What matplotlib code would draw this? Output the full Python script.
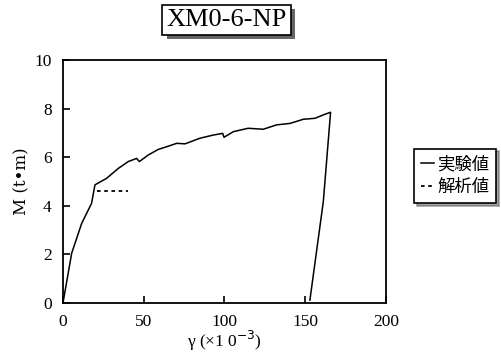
import numpy as np
import matplotlib.pyplot as plt
import matplotlib.patheffects as pe

# experimental curve (gamma x10^-3, M t*m)
exp_x = [0, 5.4, 11.6, 17.7, 19.8, 20.8, 27, 34.3, 40.4, 45.6, 47.3, 52.8, 59, 64.2,
         70.4, 75.6, 84.8, 93, 98.9, 99.7, 105.5, 114.7, 124, 132.3, 140.6, 148.8,
         156, 161.2, 165.7, 161.2, 152.9]
exp_y = [0, 2.05, 3.28, 4.1, 4.86, 4.9, 5.13, 5.54, 5.82, 5.95, 5.82, 6.09, 6.32, 6.43,
         6.57, 6.55, 6.78, 6.91, 6.98, 6.82, 7.05, 7.19, 7.15, 7.33, 7.39, 7.56,
         7.6, 7.74, 7.85, 4.17, 0.12]

# analytical value
ana_x = [21, 40.5]
ana_y = [4.6, 4.6]

xticks = [0, 50, 100, 150, 200]
yticks = [0, 2, 4, 6, 8, 10]

serif = ['Liberation Serif', 'DejaVu Serif']
jp = ['Noto Sans CJK JP', 'DejaVu Sans']

fig = plt.figure(figsize=(5.01, 3.55), dpi=100)
ax = fig.add_axes([0.1257, 0.1465, 0.6447, 0.6845])

ax.plot(exp_x, exp_y, color='black', lw=1.1, label='実験値')
ax.plot(ana_x, ana_y, color='black', lw=1.3, ls=(0, (2, 2)), label='解析値')

ax.set_xlim(0, 200)
ax.set_ylim(0, 10)
ax.set_xticks(xticks)
ax.set_yticks(yticks)
ax.tick_params(direction='in', length=5, width=1.2, labelsize=12.5, pad=8)
for lab in ax.get_xticklabels() + ax.get_yticklabels():
    lab.set_fontfamily(serif)
for s in ax.spines.values():
    s.set_linewidth(1.3)

ax.set_ylabel('M (t\u2022m)', fontsize=12, family=['DejaVu Serif'], labelpad=3)
ax.set_xlabel('γ (×1 0$^{-3}$)', fontsize=12.5, family=serif, labelpad=-1)

# title with shadow box
t = fig.text(0.452, 0.943, 'XM0-6-NP', ha='center', va='center', fontsize=19,
             family=serif,
             bbox=dict(boxstyle='square,pad=0.15', fc='white', ec='black', lw=1.2))
t.get_bbox_patch().set_path_effects([
    pe.SimplePatchShadow(offset=(3, -3), shadow_rgbFace='#666666', alpha=1), pe.Normal()])

leg = ax.legend(loc='center left', bbox_to_anchor=(0.81, 0.505), bbox_transform=fig.transFigure,
                frameon=True, fancybox=False, shadow=True, handlelength=0.7,
                handletextpad=0.2, borderpad=0.4, labelspacing=0.25,
                prop={'family': jp, 'size': 12.5})
leg.get_frame().set_edgecolor('black')
leg.get_frame().set_linewidth(1.2)

fig.savefig('out.png', dpi=100)
